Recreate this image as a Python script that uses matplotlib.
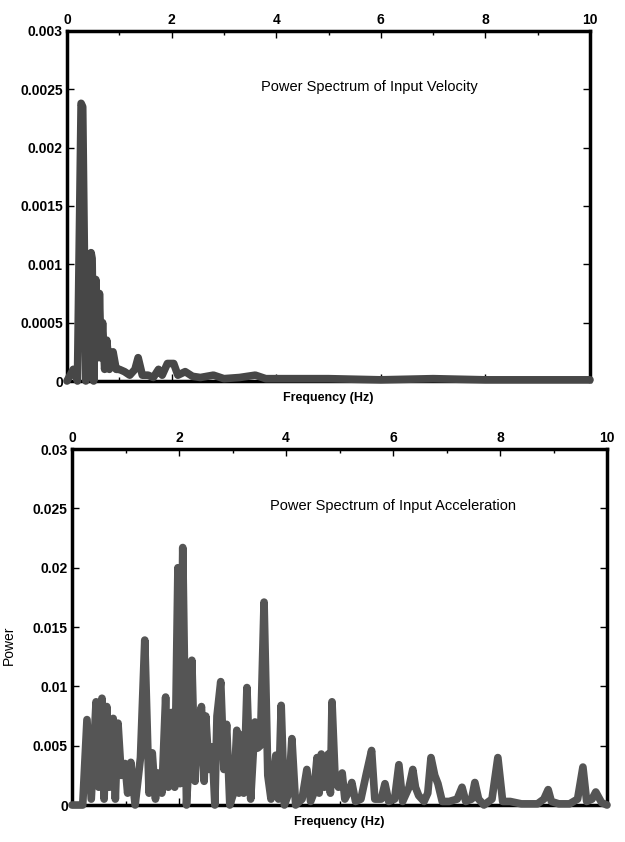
import matplotlib
matplotlib.use("Agg")
import matplotlib.pyplot as plt
from matplotlib.ticker import MultipleLocator

plt.rcParams['font.family'] = ['Liberation Sans', 'DejaVu Sans']

# Power spectrum of input velocity (top)
vel_freq = [0, 0.12, 0.2, 0.27, 0.3, 0.36, 0.41, 0.46, 0.48, 0.51, 0.55, 0.6, 0.62, 0.65,
            0.68, 0.72, 0.76, 0.81, 0.88, 0.94, 1.0, 1.1, 1.2, 1.3, 1.36, 1.44,
            1.55, 1.65, 1.75, 1.82, 1.92, 2.04, 2.12, 2.26, 2.4, 2.55, 2.8, 3.0,
            3.3, 3.6, 3.8, 4.5, 5.0, 6.0, 7.0, 8.0, 9.0, 10.0]
vel_power = [0, 0.0001, 0.0, 0.00238, 0.00235, 0.0, 0.0002, 0.0011, 0.00105, 0.0, 0.00087, 0.0002,
             0.00075, 0.0002, 0.0005, 0.0001, 0.00035, 0.0001, 0.00025, 0.0001,
             0.0001, 0.00008, 0.00005, 0.0001, 0.0002, 0.00005, 0.00005, 0.00003,
             0.0001, 0.00005, 0.00015, 0.00015, 0.00005, 0.00008, 0.00004,
             0.00003, 0.00005, 0.00002, 0.00003, 0.00005, 0.00002, 0.00002,
             0.00002, 0.00001, 0.00002, 0.00001, 0.00001, 0.00001]

# Power spectrum of input acceleration (bottom)
acc_freq = [0.0, 0.2, 0.28, 0.36, 0.45, 0.5, 0.56, 0.6, 0.65, 0.7, 0.77, 0.81,
            0.86, 0.92, 0.99, 1.04, 1.1, 1.18, 1.28, 1.36, 1.44, 1.5, 1.56, 1.61,
            1.68, 1.75, 1.8, 1.86, 1.92, 1.98, 2.02, 2.07, 2.14, 2.2, 2.24, 2.3,
            2.36, 2.42, 2.47, 2.5, 2.56, 2.62, 2.67, 2.71, 2.78, 2.84, 2.89, 2.95,
            3.02, 3.08, 3.12, 3.16, 3.21, 3.27, 3.34, 3.42, 3.47, 3.52, 3.59, 3.66,
            3.72, 3.81, 3.86, 3.91, 3.97, 4.05, 4.11, 4.18, 4.3, 4.39, 4.46, 4.52,
            4.58, 4.62, 4.66, 4.72, 4.79, 4.83, 4.86, 4.92, 4.98, 5.05, 5.1, 5.18,
            5.23, 5.3, 5.4, 5.5, 5.6, 5.66, 5.78, 5.85, 5.92, 6.03, 6.11, 6.18,
            6.3, 6.37, 6.42, 6.48, 6.58, 6.65, 6.71, 6.78, 6.84, 6.92, 7.05, 7.2,
            7.29, 7.36, 7.47, 7.53, 7.6, 7.7, 7.85, 7.96, 8.05, 8.19, 8.4, 8.7,
            8.82, 8.9, 8.96, 9.1, 9.3, 9.45, 9.55, 9.62, 9.72, 9.79, 9.9, 10.0]
acc_power = [0, 0, 0.0072, 0.0005, 0.0087, 0.0015, 0.009, 0.0005, 0.0083, 0.0015,
             0.0073, 0.0005, 0.0069, 0.0025, 0.0035, 0.001, 0.0036, 0.0, 0.004,
             0.0139, 0.001, 0.0044, 0.0005, 0.0027, 0.001, 0.0091, 0.0015, 0.0078,
             0.0015, 0.02, 0.0018, 0.0217, 0.0, 0.005, 0.0122, 0.002, 0.007,
             0.0083, 0.002, 0.0075, 0.003, 0.0049, 0.0, 0.0075, 0.0104, 0.003,
             0.0068, 0.0, 0.001, 0.0063, 0.001, 0.0059, 0.001, 0.0099, 0.0005,
             0.007, 0.0048, 0.005, 0.0171, 0.0025, 0.0005, 0.0042, 0.0005, 0.0084,
             0.0, 0.001, 0.0056, 0.0, 0.0005, 0.003, 0.0003, 0.001, 0.004, 0.001,
             0.0043, 0.0015, 0.0043, 0.001, 0.0087, 0.002, 0.0015, 0.0027, 0.0005,
             0.0012, 0.0019, 0.0003, 0.0005, 0.0026, 0.0046, 0.0005, 0.0005,
             0.0018, 0.0003, 0.0005, 0.0034, 0.0003, 0.0015, 0.003, 0.0015,
             0.0008, 0.0003, 0.001, 0.004, 0.0025, 0.0018, 0.0003, 0.0003, 0.0005,
             0.0015, 0.0003, 0.0005, 0.0019, 0.0005, 0.0, 0.0005, 0.004, 0.0003,
             0.0003, 0.0001, 0.0001, 0.0005, 0.0013, 0.0003, 0.0001, 0.0001,
             0.0005, 0.0032, 0.0003, 0.0005, 0.0011, 0.0002, 0.0]

x_ticks = [0, 2, 4, 6, 8, 10]
vel_yticks = [0, 0.0005, 0.001, 0.0015, 0.002, 0.0025, 0.003]
vel_ylabels = ['0', '0.0005', '0.001', '0.0015', '0.002', '0.0025', '0.003']
acc_yticks = [0, 0.005, 0.01, 0.015, 0.02, 0.025, 0.03]
acc_ylabels = ['0', '0.005', '0.01', '0.015', '0.02', '0.025', '0.03']


def style_axes(ax, yticks, ylabels):
    ax.set_xlim(0, 10)
    ax.set_ylim(yticks[0], yticks[-1])
    ax.set_xticks(x_ticks)
    ax.xaxis.set_minor_locator(MultipleLocator(1))
    ax.set_yticks(yticks)
    ax.set_yticklabels(ylabels)
    ax.tick_params(which='both', direction='in', top=True, right=True,
                   labeltop=True, labelbottom=False, width=1.0)
    ax.tick_params(which='major', length=5, labelsize=10, pad=3)
    ax.tick_params(which='minor', length=3)
    for lab in ax.get_xticklabels() + ax.get_yticklabels():
        lab.set_fontweight('bold')
    for sp in ax.spines.values():
        sp.set_linewidth(2.5)
    ax.set_xlabel('Frequency (Hz)', fontsize=9, fontweight='bold', labelpad=8)


fig = plt.figure(figsize=(6.25, 8.42), dpi=100)

ax1 = fig.add_axes([0.1072, 0.5475, 0.8368, 0.4157])
ax1.plot(vel_freq, vel_power, color='#474747', lw=5.5,
         solid_capstyle='round', solid_joinstyle='round', clip_on=False, zorder=3)
style_axes(ax1, vel_yticks, vel_ylabels)
ax1.text(0.37, 0.84, 'Power Spectrum of Input Velocity', transform=ax1.transAxes,
         fontsize=10.5, ha='left', va='center')

ax2 = fig.add_axes([0.1152, 0.0439, 0.856, 0.4228])
ax2.plot(acc_freq, acc_power, color='#555555', lw=5.5,
         solid_capstyle='round', solid_joinstyle='round', clip_on=False, zorder=3)
style_axes(ax2, acc_yticks, acc_ylabels)
ax2.text(0.37, 0.84, 'Power Spectrum of Input Acceleration', transform=ax2.transAxes,
         fontsize=10.5, ha='left', va='center')
ax2.set_ylabel('Power', fontsize=10)
ax2.yaxis.set_label_coords(-0.105, 0.45)

fig.savefig('out.png', dpi=100)
